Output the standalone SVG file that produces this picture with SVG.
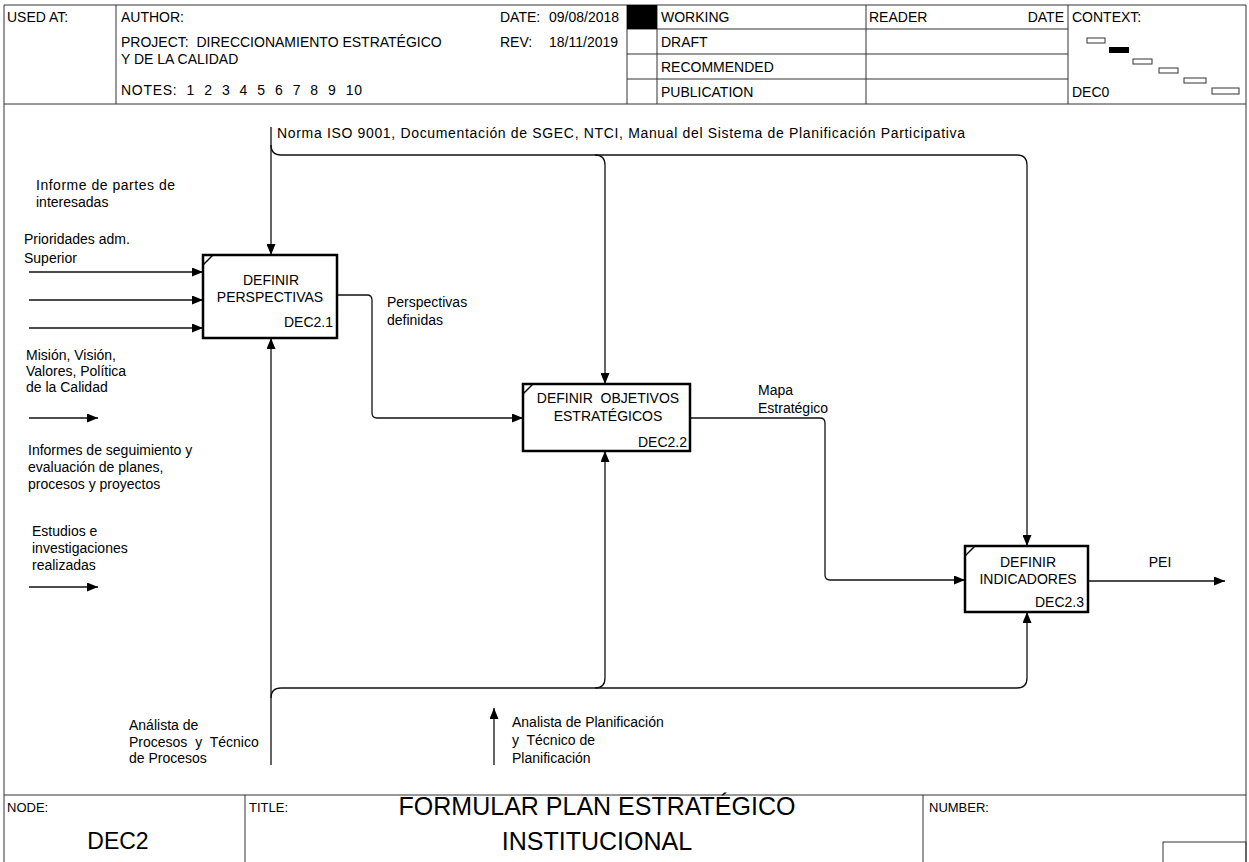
<svg xmlns="http://www.w3.org/2000/svg" width="1249" height="862" viewBox="0 0 1249 862" xml:space="preserve">
<defs>
<marker id="ah" markerUnits="userSpaceOnUse" markerWidth="11" markerHeight="9" refX="11" refY="4.5" orient="auto">
<path d="M0,0 L11,4.5 L0,9 z" fill="#000"/>
</marker>
<style>
text{font-family:"Liberation Sans",Arial,sans-serif;font-size:14px;fill:#000;white-space:pre}
.hl{stroke:#333;stroke-width:1;fill:none}
.box{fill:#fff;stroke:#000;stroke-width:2.5}
.c{stroke:#111;stroke-width:1.3;fill:none}
.ca{stroke:#111;stroke-width:1.3;fill:none;marker-end:url(#ah)}
.mid{text-anchor:middle}
.end{text-anchor:end}
.big{font-size:25px}
.sm{font-size:13px}
</style>
</defs>
<rect width="1249" height="862" fill="#fff"/>

<g id="frame">
<path class="hl" d="M4,862 V5 H1246 V862"/>
<line class="hl" x1="4" y1="104" x2="1246" y2="104"/>
<line class="hl" x1="116" y1="5" x2="116" y2="104"/>
<line class="hl" x1="627" y1="5" x2="627" y2="104"/>
<line class="hl" x1="657" y1="5" x2="657" y2="104"/>
<line class="hl" x1="866" y1="5" x2="866" y2="104"/>
<line class="hl" x1="1068" y1="5" x2="1068" y2="104"/>
<line class="hl" x1="627" y1="29" x2="1068" y2="29"/>
<line class="hl" x1="627" y1="54" x2="1068" y2="54"/>
<line class="hl" x1="627" y1="79" x2="1068" y2="79"/>
<rect x="627" y="5" width="30" height="24" fill="#000"/>
<line class="hl" x1="4" y1="795" x2="1246" y2="795"/>
<line class="hl" x1="245" y1="795" x2="245" y2="862"/>
<line class="hl" x1="923" y1="795" x2="923" y2="862"/>
<rect class="hl" x="1163" y="842" width="83" height="25"/>
</g>

<g id="header-text">
<text x="7" y="22">USED AT:</text>
<text x="121" y="22">AUTHOR:</text>
<text x="121" y="47">PROJECT:  DIRECCIONAMIENTO ESTRATÉGICO</text>
<text x="121" y="64">Y DE LA CALIDAD</text>
<text x="121" y="95" textLength="241">NOTES:  1  2  3  4  5  6  7  8  9  10</text>
<text x="500" y="22">DATE:</text>
<text x="549" y="22">09/08/2018</text>
<text x="500" y="47">REV:</text>
<text x="549" y="47">18/11/2019</text>
<text x="661" y="22">WORKING</text>
<text x="661" y="47">DRAFT</text>
<text x="661" y="72">RECOMMENDED</text>
<text x="661" y="97">PUBLICATION</text>
<text x="869" y="22">READER</text>
<text class="end" x="1064" y="22">DATE</text>
<text x="1072" y="22">CONTEXT:</text>
<text x="1072" y="97">DEC0</text>
</g>

<g id="context">
<rect class="hl" x="1087" y="38" width="18" height="5"/>
<rect x="1109" y="47" width="20" height="6" fill="#000"/>
<rect class="hl" x="1133" y="59" width="19" height="5"/>
<rect class="hl" x="1159" y="68" width="19" height="5"/>
<rect class="hl" x="1184" y="78" width="22" height="5"/>
<rect class="hl" x="1212" y="88" width="27" height="6"/>
</g>

<g id="connectors">
<path class="ca" d="M271,127 V255"/>
<path class="c" d="M271,145 Q271,155 281,155 H1017"/>
<path class="ca" d="M595,155 Q605,155 605,165 V384"/>
<path class="ca" d="M1017,155 Q1027,155 1027,165 V546"/>
<path class="ca" d="M29,272 H203"/>
<path class="ca" d="M29,300 H203"/>
<path class="ca" d="M29,328 H203"/>
<path class="ca" d="M29,418 H98"/>
<path class="ca" d="M29,587 H98"/>
<path class="ca" d="M337,295 H367 Q372,295 372,300 V413 Q372,418 377,418 H523"/>
<path class="ca" d="M690,418 H820 Q825,418 825,423 V575 Q825,580 830,580 H965"/>
<path class="ca" d="M1088,581 H1225"/>
<path class="ca" d="M271,765 V338"/>
<path class="c" d="M271,698 Q271,688 281,688 H1017"/>
<path class="ca" d="M595,688 Q605,688 605,678 V451"/>
<path class="ca" d="M1017,688 Q1027,688 1027,678 V612"/>
<path class="ca" d="M494,765 V708"/>
</g>

<g id="node-dec21">
<rect class="box" x="203" y="255" width="134" height="83"/>
<line x1="203" y1="265" x2="213" y2="255" stroke="#000" stroke-width="1.5"/>
<text class="mid" x="271" y="285">DEFINIR</text>
<text class="mid" x="270" y="302">PERSPECTIVAS</text>
<text class="end" x="333" y="327">DEC2.1</text>
</g>

<g id="node-dec22">
<rect class="box" x="523" y="384" width="167" height="67"/>
<line x1="523" y1="394" x2="533" y2="384" stroke="#000" stroke-width="1.5"/>
<text class="mid" x="608" y="403">DEFINIR  OBJETIVOS</text>
<text class="mid" x="608" y="421">ESTRATÉGICOS</text>
<text class="end" x="687" y="447">DEC2.2</text>
</g>

<g id="node-dec23">
<rect class="box" x="965" y="546" width="123" height="66"/>
<line x1="965" y1="556" x2="975" y2="546" stroke="#000" stroke-width="1.5"/>
<text class="mid" x="1028" y="567">DEFINIR</text>
<text class="mid" x="1028" y="584">INDICADORES</text>
<text class="end" x="1084" y="607">DEC2.3</text>
</g>

<g id="labels">
<text x="277" y="138" textLength="688">Norma ISO 9001, Documentación de SGEC, NTCI, Manual del Sistema de Planificación Participativa</text>
<text x="36" y="190" textLength="139">Informe de partes de</text>
<text x="36" y="207">interesadas</text>
<text x="24" y="244">Prioridades adm.</text>
<text x="24" y="263">Superior</text>
<text x="26" y="360">Misión, Visión,</text>
<text x="26" y="376">Valores, Política</text>
<text x="26" y="392">de la Calidad</text>
<text x="28" y="455">Informes de seguimiento y</text>
<text x="28" y="472">evaluación de planes,</text>
<text x="28" y="489">procesos y proyectos</text>
<text x="32" y="536">Estudios e</text>
<text x="32" y="553">investigaciones</text>
<text x="32" y="570">realizadas</text>
<text x="387" y="307">Perspectivas</text>
<text x="387" y="325">definidas</text>
<text x="758" y="395">Mapa</text>
<text x="758" y="413">Estratégico</text>
<text class="mid" x="1160" y="567">PEI</text>
<text x="129" y="730">Análista de</text>
<text x="129" y="747">Procesos  y  Técnico</text>
<text x="129" y="763">de Procesos</text>
<text x="512" y="727">Analista de Planificación</text>
<text x="512" y="745">y  Técnico de</text>
<text x="512" y="763">Planificación</text>
</g>

<g id="footer-text">
<text class="sm" x="7" y="812">NODE:</text>
<text x="118" y="849" class="mid" style="font-size:23px">DEC2</text>
<text class="sm" x="249" y="812">TITLE:</text>
<text class="mid big" x="597" y="815">FORMULAR PLAN ESTRATÉGICO</text>
<text class="mid big" x="597" y="850">INSTITUCIONAL</text>
<text class="sm" x="929" y="812">NUMBER:</text>
</g>
</svg>
